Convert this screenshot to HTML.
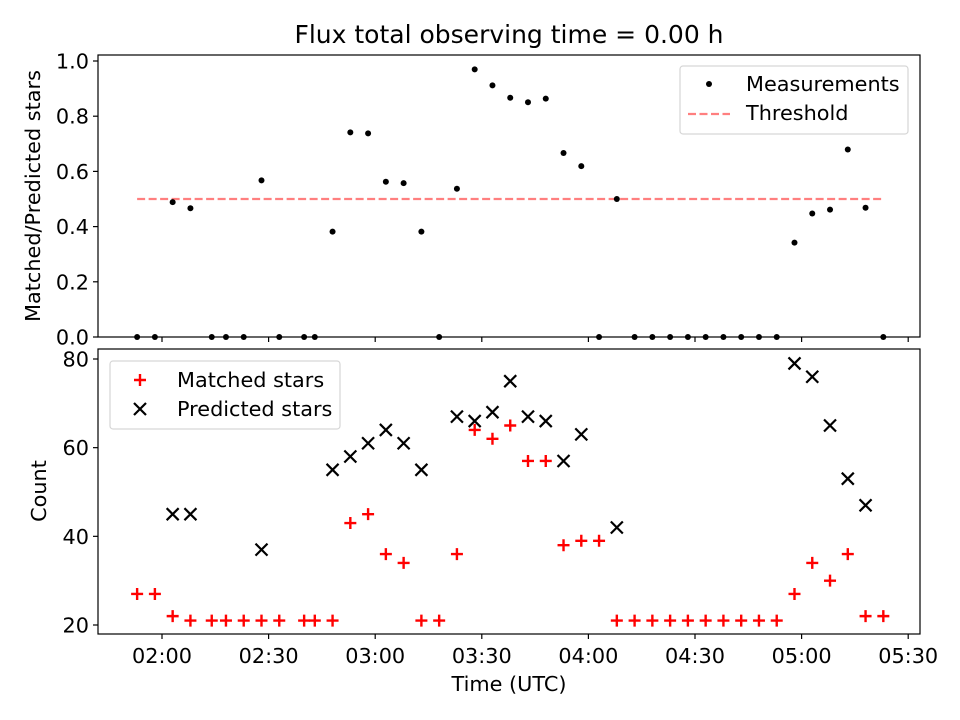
<!DOCTYPE html>
<html><head><meta charset="utf-8"><style>
html,body{margin:0;padding:0;background:#fff;width:960px;height:720px;overflow:hidden}
svg text{font-family:"DejaVu Sans","Liberation Sans",sans-serif;fill:#000}
</style></head><body>
<svg id="fig" width="960" height="720" viewBox="0 0 960 720" xmlns="http://www.w3.org/2000/svg">
<rect width="960" height="720" fill="#fff"/>
<text x="509" y="43" font-size="25" text-anchor="middle">Flux total observing time = 0.00 h</text>
<g id="topPanel"></g>
<g id="botPanel"></g>
<text transform="translate(40,196) rotate(-90)" font-size="20.8" text-anchor="middle">Matched/Predicted stars</text>
<text transform="translate(46,491) rotate(-90)" font-size="20.8" text-anchor="middle">Count</text>
<text x="509" y="691" font-size="20.8" text-anchor="middle">Time (UTC)</text>
</svg>
<script>
// minutes after 02:00 UTC
const times = [-7,-2,3,8,14,18,23,28,33,40,43,48,53,58,63,68,73,78,83,88,93,98,103,108,113,118,123,128,133,138,143,148,153,158,163,168,173,178,183,188,193,198,203];
const matched = [27,27,22,21,21,21,21,21,21,21,21,21,43,45,36,34,21,21,36,64,62,65,57,57,38,39,39,21,21,21,21,21,21,21,21,21,21,27,34,30,36,22,22];
const predicted = [null,null,45,45,null,null,null,37,null,null,null,55,58,61,64,61,55,null,67,66,68,75,67,66,57,63,null,42,null,null,null,null,null,null,null,null,null,79,76,65,53,47,null];
const threshold = 0.5;
const xTickMinutes = [0,30,60,90,120,150,180,210];
const xTickLabels = ["02:00","02:30","03:00","03:30","04:00","04:30","05:00","05:30"];
const topTicks = [0,0.2,0.4,0.6,0.8,1.0];
const botTicks = [20,40,60,80];

const NS="http://www.w3.org/2000/svg";
function mk(tag,attrs,parent){const e=document.createElementNS(NS,tag);for(const k in attrs)e.setAttribute(k,attrs[k]);parent.appendChild(e);return e;}
const L=98,R=920;
const xs = m => 162 + (m)*(106.6/30);
const yTop = v => 337 - v*276;
const yBot = v => 625 - (v-20)*(266/60);
const topG=document.getElementById('topPanel'), botG=document.getElementById('botPanel');

function frame(g,y0,y1,name){
  const r=mk('rect',{x:L,y:y0,width:R-L,height:y1-y0,fill:'none',stroke:'#000','stroke-width':1.2},g);
  
  
  xTickMinutes.forEach((m,i)=>{
    const t=mk('line',{x1:xs(m),x2:xs(m),y1:y1,y2:y1+5,stroke:'#000','stroke-width':1.2},g);
    
    
  });
}
// top panel
frame(topG,55,337,'top-axes-frame');
topTicks.forEach(v=>{
  const y=yTop(v);
  const t=mk('line',{x1:L-5,x2:L,y1:y,y2:y,stroke:'#000','stroke-width':1.2},topG);
  
  
  const tx=mk('text',{x:L-9,y:y+7.5,'font-size':20.8,'text-anchor':'end'},topG);
  tx.textContent=v.toFixed(1);
  
  
});
const th=mk('line',{x1:xs(times[0]),x2:xs(times[times.length-1]),y1:yTop(threshold),y2:yTop(threshold),stroke:'#ff7f7f','stroke-width':2.2,'stroke-dasharray':'8,3.5'},topG);


times.forEach((m,i)=>{
  const p=predicted[i];
  const v=p?matched[i]/p:0;
  const c=mk('circle',{cx:xs(m),cy:yTop(v),r:3,fill:'#000'},topG);
  
  
});
// top legend
const lg=mk('g',{},topG);


mk('rect',{x:680,y:66,width:228,height:68,rx:3,fill:'#fff','fill-opacity':0.8,stroke:'#d6d6d6','stroke-width':1.2},lg);
mk('circle',{cx:709,cy:84,r:3,fill:'#000'},lg);
let t1=mk('text',{x:746,y:91,'font-size':20.8},lg);t1.textContent='Measurements';


mk('line',{x1:688,x2:730,y1:114,y2:114,stroke:'#ff7f7f','stroke-width':2.2,'stroke-dasharray':'8,3.5'},lg);
let t2=mk('text',{x:746,y:120,'font-size':20.8},lg);t2.textContent='Threshold';



// bottom panel
frame(botG,349,634,'bottom-axes-frame');
botTicks.forEach(v=>{
  const y=yBot(v);
  const t=mk('line',{x1:L-5,x2:L,y1:y,y2:y,stroke:'#000','stroke-width':1.2},botG);
  
  
  const tx=mk('text',{x:L-9,y:y+7.5,'font-size':20.8,'text-anchor':'end'},botG);
  tx.textContent=String(v);
  
  
});
xTickMinutes.forEach((m,i)=>{
  const tx=mk('text',{x:xs(m),y:663,'font-size':20.8,'text-anchor':'middle'},botG);
  tx.textContent=xTickLabels[i];
  
  
});
function plus(g,x,y){const e=mk('path',{d:`M${x-6} ${y}H${x+6}M${x} ${y-6}V${y+6}`,stroke:'#f00','stroke-width':2.4,fill:'none'},g);return e;}
function cross(g,x,y){const e=mk('path',{d:`M${x-6} ${y-6}L${x+6} ${y+6}M${x-6} ${y+6}L${x+6} ${y-6}`,stroke:'#000','stroke-width':2.2,fill:'none'},g);return e;}
times.forEach((m,i)=>{
  const e=plus(botG,xs(m),yBot(matched[i]));
  
  
  if(predicted[i]!=null){
    const c=cross(botG,xs(m),yBot(predicted[i]));
    
    
  }
});
const lg2=mk('g',{},botG);


mk('rect',{x:110,y:361,width:230,height:68,rx:3,fill:'#fff','fill-opacity':0.8,stroke:'#d6d6d6','stroke-width':1.2},lg2);
plus(lg2,140,380);
let t3=mk('text',{x:177,y:387,'font-size':20.8},lg2);t3.textContent='Matched stars';


cross(lg2,140,409);
let t4=mk('text',{x:177,y:416,'font-size':20.8},lg2);t4.textContent='Predicted stars';


</script>
</body></html>
